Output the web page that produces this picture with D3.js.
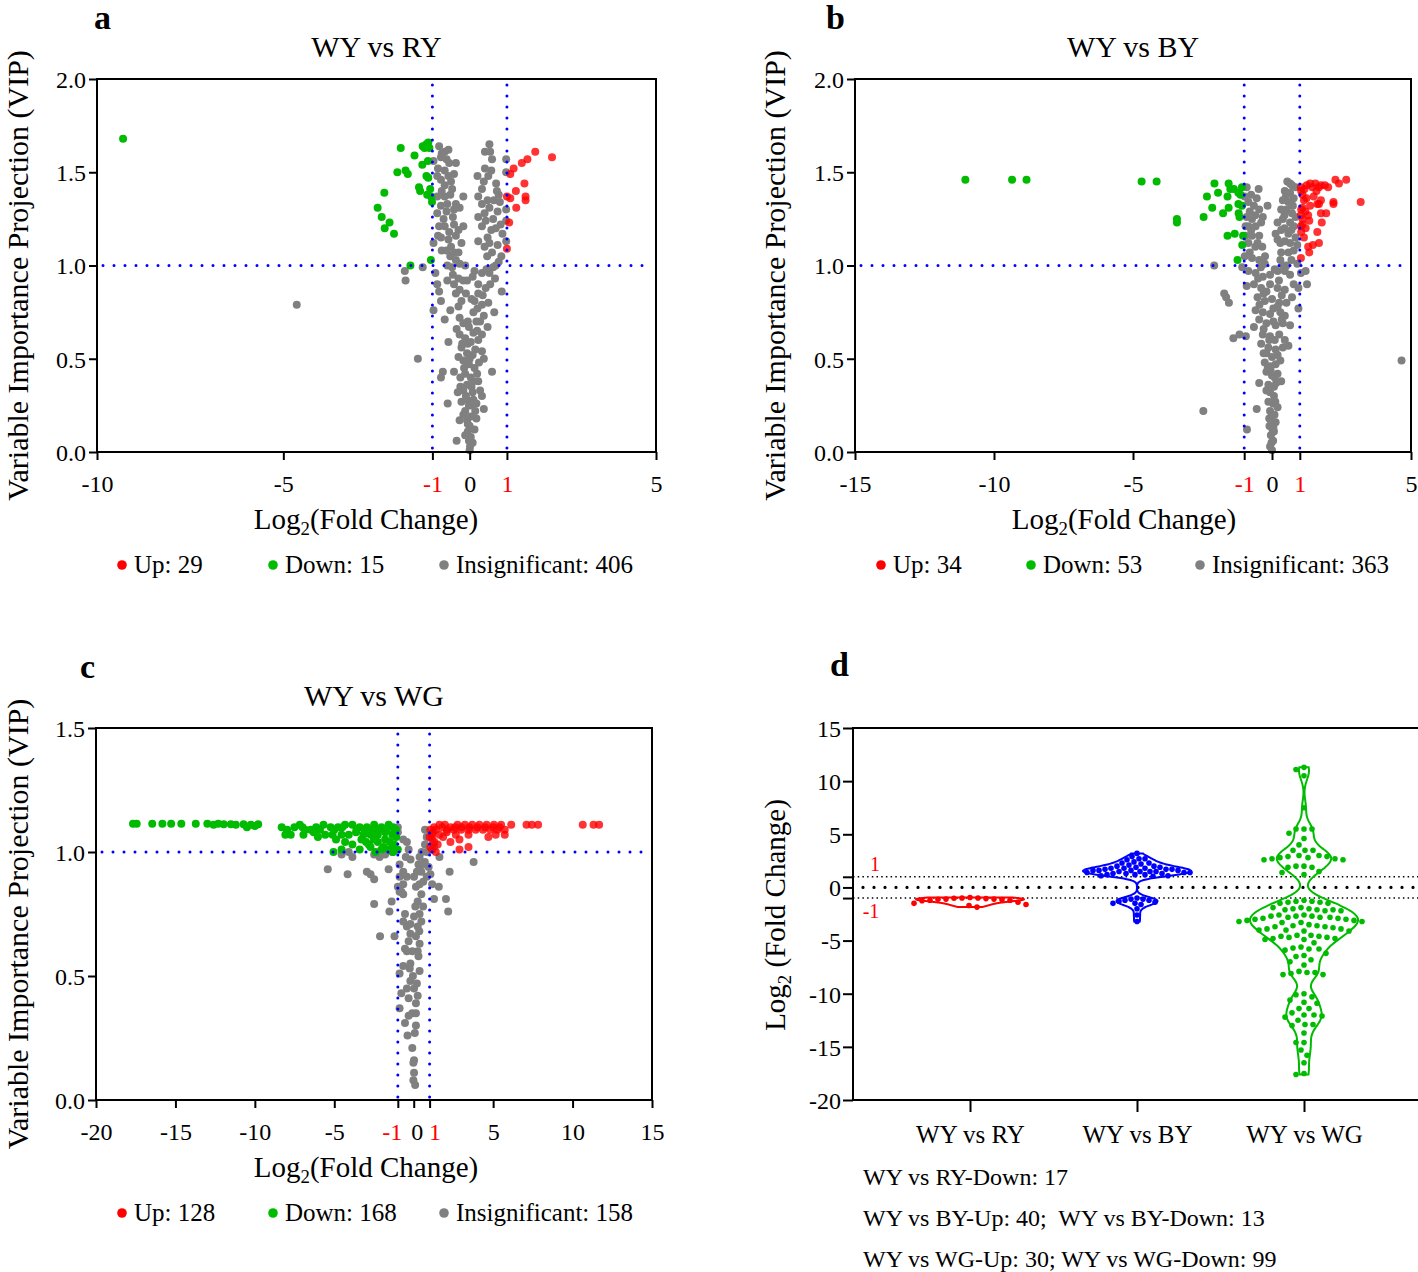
<!DOCTYPE html>
<html>
<head>
<meta charset="utf-8">
<script src="https://cdn.jsdelivr.net/npm/d3@7"></script>
<style>
  body { margin: 0; background: #fff; }
  text { font-family: "Liberation Serif", "Times New Roman", serif; }
</style>
</head>
<body>
<div id="chart"></div>
<script>
// ---- panel a : WY vs RY ----
const aUp = [[1.76,1.61],[2.21,1.58],[1.55,1.57],[1.40,1.55],[1.18,1.52],[1.09,1.49],[1.47,1.44],[1.24,1.40],[1.00,1.37],[1.09,1.36],[1.50,1.37],[1.50,1.35],[1.25,1.31],[1.06,1.23],[1.00,1.09]];
const aDown = [[-9.30,1.68],[-1.85,1.63],[-1.48,1.59],[-1.26,1.64],[-1.16,1.65],[-1.11,1.66],[-1.21,1.63],[-1.08,1.63],[-1.27,1.54],[-1.12,1.56],[-1.94,1.50],[-1.72,1.51],[-1.66,1.49],[-1.16,1.48],[-1.11,1.47],[-1.36,1.42],[-1.33,1.40],[-1.06,1.41],[-1.14,1.38],[-1.04,1.37],[-1.01,1.34],[-2.29,1.39],[-2.47,1.31],[-2.36,1.26],[-2.15,1.23],[-2.28,1.20],[-2.03,1.17],[-1.59,1.00],[-1.04,1.03]];
const aInsig = [
  [-0.82,1.64],[-0.67,1.61],[-0.57,1.62],[-0.77,1.58],[-0.62,1.57],[-0.37,1.55],[-0.97,1.56],[-0.67,1.51],[-0.87,1.48],[-0.77,1.46],[-0.57,1.48],[-0.42,1.49],[-0.67,1.43],[-0.47,1.41],[-0.87,1.37],[-0.67,1.37],[-0.52,1.38],[-0.17,1.37],[-0.77,1.32],[-0.37,1.33],[-0.27,1.31],[-0.87,1.28],[-0.62,1.29],[-0.42,1.30],[-0.82,1.21],[-0.67,1.21],[-0.42,1.22],[-0.17,1.21],[-0.77,1.15],[-0.57,1.14],[-0.37,1.16],[-0.22,1.12],[-0.97,1.12],[-0.62,1.08],[-0.42,1.07],[-0.52,1.05],[-0.37,1.03],[-0.27,1.01],[-0.47,0.99],[-0.12,1.00],
  [-0.92,0.96],[-0.87,0.90],[-0.82,0.86],[-0.77,0.81],[-0.97,0.76],[-0.67,0.71],[-0.52,0.76],[-0.42,0.90],[-0.27,0.87],[-0.17,0.92],[-0.07,0.92],[-0.37,0.85],[-0.22,0.81],[-0.57,0.59],[-0.42,0.43],[-0.72,0.43],[-0.77,0.40],[-0.59,0.26],[-0.35,0.06],[-0.27,0.17],[-0.32,0.32],
  [0.53,1.65],[0.41,1.61],[0.55,1.61],[0.98,1.57],[0.41,1.52],[0.58,1.51],[0.21,1.48],[0.38,1.45],[0.71,1.44],[0.98,1.50],[0.33,1.41],[0.73,1.40],[0.23,1.37],[0.48,1.35],[0.78,1.38],[0.33,1.33],[0.53,1.31],[0.81,1.34],[0.98,1.30],[0.23,1.26],[0.43,1.24],[0.63,1.25],[0.98,1.24],[0.33,1.21],[0.58,1.19],[0.83,1.22],[0.88,1.17],[0.23,1.13],[0.48,1.15],[0.53,1.12],[0.75,1.11],[0.98,1.13],[0.47,1.05],[0.70,1.00],[0.78,1.02],[0.63,0.99],[0.13,0.97],[0.33,0.96],[0.53,0.96],[0.68,0.93],[0.08,0.94],[0.23,0.90],[0.43,0.88],[0.86,0.86],[0.23,0.85],[0.13,0.81],[0.33,0.79],[0.21,0.77],[0.66,0.75],[0.38,0.73],[0.18,0.70],[0.48,0.67],[0.33,0.63],[0.23,0.60],[0.33,0.54],[0.38,0.50],[0.60,0.43],[0.23,0.38],[0.28,0.33],[0.33,0.30],[0.38,0.23],[0.18,0.26],
  [-0.27,0.72],[-0.17,0.69],[-0.02,0.67],[-0.27,0.63],[-0.12,0.61],[0.03,0.59],[-0.22,0.56],[-0.07,0.53],[0.08,0.52],[-0.17,0.49],[-0.02,0.47],[0.13,0.45],[-0.12,0.42],[0.03,0.40],[-0.07,0.36],[-0.17,0.33],[0.08,0.32],[-0.07,0.28],[-0.02,0.25],[-0.12,0.22],[0.03,0.19],[-0.07,0.17],[0,0.14],[-0.05,0.11],[0.03,0.08],[-0.02,0.06],[0.01,0.03],[0,0.01],[0.13,0.12],[-0.17,0.20],[0.18,0.18],[-0.22,0.27],
  [-0.1,0.85],[0.05,0.82],[-0.3,0.78],[0.1,0.75],[-0.05,0.70],[0.2,0.65],[-0.2,0.58],[0.15,0.55],[0,0.50],[-0.15,0.45],[0.1,0.38],[-0.1,0.30],[0.05,0.25],[-0.05,0.15],[0.08,0.05],[0.1,0.28],[-0.25,0.35],
  [-0.75,1.60],[-0.55,1.55],[-0.85,1.52],[-0.5,1.45],[-0.75,1.40],[-0.6,1.33],[-0.45,1.26],[-0.7,1.25],[-0.55,1.18],[-0.85,1.16],[-0.3,1.19],[-0.5,1.10],[-0.75,1.08],[-0.3,1.07],[-0.6,1.00],[-0.45,0.95],[-0.6,0.92],[-0.3,0.93],[0.6,1.57],[0.5,1.48],[0.65,1.35],[0.4,1.28],[0.75,1.29],[0.7,1.20],[0.4,1.10],[0.6,1.07],[0.85,1.05],[0.45,0.98],[0.55,0.90],[0.35,0.84],[0.5,0.80],[0.28,0.70],[0.1,0.64],[-0.35,0.66],[-0.3,0.51],[0.25,0.48],[0.2,0.42],[-0.25,0.40],[0.15,0.22],[-0.12,0.09],[0.05,0.35],[-0.05,0.58],
  [-4.64,0.79],[-1.39,0.50],[-1.74,0.97],[-1.72,0.92],[-1.26,0.99]
];

// ---- panel b : WY vs BY ----
const bUp = [[1.04,1.42],[1.17,1.41],[1.37,1.44],[1.56,1.44],[1.69,1.42],[1.76,1.43],[2.02,1.42],[2.28,1.46],[2.41,1.44],[2.67,1.46],[3.19,1.34],[1.24,1.36],[1.50,1.37],[1.76,1.35],[1.69,1.33],[2.21,1.34],[2.21,1.33],[1.10,1.31],[1.37,1.32],[1.63,1.33],[1.04,1.27],[1.30,1.27],[1.76,1.28],[1.95,1.28],[1.10,1.25],[1.34,1.24],[1.04,1.21],[1.21,1.20],[1.79,1.23],[1.63,1.18],[1.69,1.12],[1.47,1.11],[1.30,1.10],[1.34,1.07],[1.04,1.04],[1.05,1.40],[1.10,1.38],[1.15,1.35],[1.05,1.30],[1.20,1.29],[1.10,1.22],[1.05,1.18],[1.15,1.15],[1.45,1.42],[1.60,1.40],[1.90,1.43],[1.25,1.43]];
const bDown = [[-11.03,1.46],[-9.35,1.46],[-8.83,1.46],[-4.69,1.45],[-4.15,1.45],[-3.42,1.25],[-3.42,1.23],[-2.46,1.26],[-2.34,1.37],[-2.15,1.31],[-2.07,1.44],[-1.94,1.39],[-1.76,1.28],[-1.60,1.37],[-1.56,1.31],[-1.56,1.44],[-1.50,1.41],[-1.37,1.41],[-1.21,1.39],[-1.08,1.42],[-1.13,1.38],[-1.21,1.33],[-1.08,1.32],[-1.17,1.26],[-1.20,1.28],[-1.60,1.16],[-1.34,1.17],[-1.04,1.16],[-1.07,1.11],[-1.24,1.03]];
const bInsig = [
  [-0.91,1.42],[-0.48,1.41],[-0.98,1.37],[-0.85,1.34],[-0.65,1.32],[-0.46,1.30],[-0.91,1.26],[-0.72,1.25],[-0.33,1.26],[-0.85,1.21],[-0.59,1.21],[-0.39,1.23],[-0.95,1.16],[-0.72,1.16],[-0.46,1.16],[-0.85,1.12],[-0.52,1.12],[-0.98,1.05],[-0.72,1.04],[-0.46,1.03],[-0.26,1.01],[-0.16,1.32],
  [0.55,1.45],[0.72,1.43],[0.46,1.40],[0.65,1.39],[0.85,1.42],[0.39,1.35],[0.59,1.34],[0.78,1.36],[0.33,1.30],[0.52,1.30],[0.72,1.28],[0.20,1.23],[0.39,1.25],[0.65,1.23],[0.85,1.26],[0.13,1.17],[0.33,1.19],[0.59,1.17],[0.78,1.21],[0.20,1.14],[0.46,1.13],[0.65,1.12],[0.91,1.11],[0.33,1.07],[0.59,1.07],[0.78,1.08],[0.30,1.03],[0.52,1.00],[0.91,1.01],[1.04,0.96],[1.21,0.97],[1.26,0.90],[0.78,0.90],[0.95,0.88],
  [-2.08,1.00],[-1.07,0.99],[-1.72,0.85],[-1.65,0.83],[-1.55,0.80],[-1.39,0.61],[-1.17,0.63],[-0.94,0.62],[-2.47,0.22],[-0.90,0.12],[4.66,0.49],[-0.55,0.23],[0.95,0.77],[-0.91,0.89],
  [-0.85,0.97],[-0.59,0.96],[-0.33,0.94],[-0.07,0.95],[0.20,0.97],[0.46,0.97],[0.65,0.95],[-0.65,0.90],[-0.39,0.88],[-0.07,0.90],[0.20,0.88],[0.46,0.87],[0.72,0.83],[-0.52,0.83],[-0.26,0.81],[0,0.82],[0.26,0.80],[0.52,0.80],[-0.59,0.76],[-0.33,0.75],[-0.07,0.74],[0.20,0.78],[0.46,0.73],[-0.46,0.71],[-0.20,0.69],[0.13,0.68],[0.39,0.69],[0.65,0.68],[-0.65,0.67],[-0.33,0.63],[-0.07,0.62],[0.26,0.63],[0.46,0.60],[-0.39,0.58],[-0.13,0.56],[0.13,0.55],[0.39,0.56],[0.59,0.57],[-0.20,0.53],[0,0.51],[0.20,0.52],[-0.26,0.48],[-0.07,0.46],[0.13,0.47],[-0.20,0.43],[0,0.41],[0.20,0.42],[-0.46,0.37],[-0.13,0.36],[0.07,0.35],[0.33,0.38],[-0.07,0.32],[0.07,0.30],[-0.13,0.27],[0.04,0.26],[0.20,0.24],[-0.07,0.22],[0.09,0.20],[-0.03,0.17],[0.13,0.16],[-0.09,0.14],[0.07,0.11],[-0.04,0.09],[0.04,0.06],[-0.07,0.03],[0,0.01],
  [-0.1,0.60],[0.1,0.40],[-0.15,0.45],[0.05,0.70],[0.3,0.75],[-0.3,0.85],[0.25,0.92],[0.1,0.98],[-0.4,0.99],[0,0.20],[0.02,0.12],[-0.02,0.05],
  [-0.75,1.38],[-0.55,1.36],[-0.8,1.29],[-0.6,1.27],[-0.95,1.21],[-0.75,1.19],[-0.6,1.10],[-0.8,1.07],[-0.35,1.10],[-0.25,1.05],[0.65,1.44],[0.5,1.37],[0.75,1.32],[0.45,1.27],[0.7,1.19],[0.45,1.20],[0.85,1.15],[0.3,1.12],[0.7,1.03],[0.4,1.00],[-0.5,0.93],[-0.2,0.86],[0.35,0.84],[-0.45,0.79],[0.05,0.77],[0.35,0.71],[-0.3,0.66],[0.1,0.60],[-0.3,0.53],[0.3,0.49],[-0.05,0.44],[0.15,0.37],[-0.2,0.33],[0.12,0.27],[-0.1,0.18],[0.05,0.13]
];

// ---- panel c : WY vs WG ----
const cUp = [[1.05,1.09],[1.28,1.10],[1.62,1.11],[1.96,1.11],[2.31,1.10],[2.76,1.11],[3.22,1.11],[3.68,1.11],[4.13,1.11],[4.59,1.11],[5.05,1.11],[5.50,1.11],[6.14,1.11],[1.16,1.07],[1.62,1.07],[2.08,1.08],[2.53,1.09],[2.99,1.09],[3.45,1.09],[3.90,1.09],[4.36,1.09],[4.82,1.09],[5.27,1.09],[5.73,1.09],[1.16,1.05],[1.51,1.03],[1.16,1.01],[1.39,1.00],[2.31,1.04],[2.88,1.05],[3.45,1.07],[2.88,1.01],[3.45,1.02],[4.70,1.06],[5.16,1.07],[5.73,1.07],[1.85,1.06],[2.65,1.07],[7.10,1.11],[7.44,1.11],[7.83,1.11],[10.64,1.11],[11.32,1.11],[11.67,1.11],[1.0,1.06],[1.2,1.08],[1.4,1.09],[1.8,1.10],[2.1,1.09],[2.6,1.10],[3.0,1.10],[3.5,1.10],[4.0,1.10],[4.5,1.10],[5.0,1.10],[5.4,1.10],[1.05,1.02],[1.3,1.04]];
const cDown = [[-17.67,1.114],[-17.44,1.114],[-16.46,1.114],[-15.82,1.114],[-15.27,1.114],[-14.63,1.114],[-13.72,1.114],[-12.99,1.114],[-12.31,1.114],[-11.96,1.112],[-11.51,1.112],[-10.71,1.112],[-10.25,1.11],[-9.79,1.112],[-11.2,1.11],[-12.6,1.11],[-10.0,1.105],[-10.5,1.10],
  [-8.31,1.10],[-7.97,1.09],[-8.08,1.07],[-7.51,1.10],[-7.17,1.11],[-6.83,1.09],[-6.48,1.09],[-6.14,1.10],[-5.68,1.11],[-5.23,1.10],[-4.77,1.10],[-4.32,1.11],[-3.86,1.11],[-3.40,1.10],[-2.95,1.10],[-2.49,1.11],[-2.03,1.10],[-1.58,1.11],[-1.12,1.09],[-7.74,1.07],[-6.94,1.07],[-6.03,1.06],[-5.57,1.07],[-5.11,1.07],[-4.54,1.07],[-4.09,1.07],[-3.63,1.08],[-3.17,1.07],[-2.72,1.07],[-2.26,1.07],[-1.80,1.08],[-1.35,1.07],[-4.89,1.05],[-4.32,1.04],[-3.86,1.03],[-3.29,1.05],[-2.83,1.03],[-2.26,1.04],[-1.80,1.05],[-1.23,1.03],[-4.54,1.01],[-3.40,1.01],[-2.72,1.02],[-2.03,1.01],[-1.58,1.01],[-5.05,1.00],[-1.00,1.01],
  [-7.0,1.10],[-6.3,1.08],[-5.9,1.09],[-5.0,1.09],[-4.5,1.10],[-3.6,1.09],[-3.1,1.09],[-2.6,1.09],[-2.2,1.09],[-1.7,1.09],[-1.3,1.10],[-1.5,1.04],[-2.5,1.05],[-3.0,1.04],[-1.1,1.06],[-1.9,1.02],[-2.4,1.00],[-1.3,1.00]];
const cInsig = [
  [-1.00,1.10],[-1.00,1.08],[-0.66,1.05],[-0.43,1.04],[-0.32,1.01],[0.71,1.09],[0.82,1.06],[0.71,1.03],[0.82,1.00],[1.28,1.02],[1.62,0.98],
  [-4.54,0.99],[-4.09,1.00],[-3.86,0.98],[-2.49,0.99],[-2.15,0.98],[-1.80,0.99],[-1.35,1.00],[-0.89,0.95],[-1.58,0.93],[-5.41,0.93],[-4.16,0.91],[-2.95,0.92],[-2.72,0.91],[-2.49,0.89],[-2.49,0.79],[-1.39,0.80],[-1.53,0.76],[-2.12,0.66],[-1.21,0.66],[-0.78,0.84],[-0.66,0.87],[-0.43,0.90],[0.02,0.90],
  [2.26,0.92],[3.77,0.96],[2.03,0.81],[2.17,0.76],[1.58,0.86],[1.16,0.87],[1.28,0.81],[0.37,0.98],[0.59,0.95],[0.94,0.94],[0.48,0.92],[0.82,0.90],[0.37,0.87],[1.05,0.91],
  [0.14,0.86],[0.48,0.83],[0.25,0.80],[0.59,0.78],[0.37,0.75],[0.02,0.74],[0.48,0.72],[0.25,0.70],[-0.21,0.67],[0.14,0.66],[0.37,0.63],[-0.43,0.60],[-0.09,0.60],[0.25,0.60],[-0.21,0.55],[-0.25,0.53],[0.37,0.52],[-0.21,0.48],[-0.43,0.45],[0.02,0.45],[0.25,0.42],[-0.32,0.41],[0.14,0.39],[-0.09,0.35],[-0.32,0.34],[0.14,0.35],[-0.55,0.31],[0.14,0.30],[-0.39,0.26],[0.07,0.27],[-0.09,0.21],[0.02,0.16],[-0.02,0.15],[0.02,0.11],[-0.02,0.08],[0.09,0.06],[-0.66,0.92],[-0.89,0.90],[-1.00,0.86],[-0.89,0.84],[-0.66,0.83],[-0.55,0.75],[-0.66,0.72],[-0.43,0.70],[-0.21,0.71],[-0.32,0.64],[-0.55,0.61],[-0.66,0.54],[-0.89,0.51],[-0.78,0.43],[-0.89,0.37],
  [0.5,1.0],[0.3,0.95],[0.6,0.88],[0.2,0.92],[0.7,0.96],[-0.2,0.97],[-0.5,0.98],[0.1,0.78],[0.35,0.68],[-0.05,0.5],[0.2,0.47],[0.3,0.58]
];

// ---- panel d : Log2 fold change of significant metabolites ----
const dGroups = ["WY vs RY", "WY vs BY", "WY vs WG"];
const dRY = [-0.95,-1.0,-1.0,-1.02,-1.05,-1.1,-1.1,-1.12,-1.15,-1.2,-1.2,-1.25,-1.4,-1.5,-1.6,-1.7,-1.85];
const dBY = [3.2,2.9,2.7,2.7,2.6,2.4,2.3,2.3,2.2,2.1,2.0,2.0,1.9,1.9,1.8,1.8,1.8,1.7,1.7,1.7,1.6,1.6,1.6,1.6,1.5,1.5,1.5,1.5,1.4,1.4,1.4,1.3,1.3,1.3,1.2,1.2,1.2,1.1,1.1,1.05,
  -1.0,-1.1,-1.1,-1.2,-1.2,-1.3,-1.4,-1.5,-1.5,-1.6,-2.0,-2.6,-3.2];
const dWG = [11.3,11.1,10.5,7.5,5.5,5.5,5.5,5.1,4.6,4.0,3.5,3.5,3.5,3.0,3.0,2.9,2.9,2.8,2.8,2.7,2.7,2.6,2.6,2.0,2.0,1.9,1.9,1.5,1.4,1.2,
  -1.2,-1.3,-1.3,-1.4,-1.4,-1.5,-1.5,-1.9,-2.0,-2.0,-2.1,-2.1,-2.1,-2.2,-2.2,-1.9,-2.6,-2.6,-2.7,-2.7,-2.8,-2.8,-2.8,-2.9,-2.9,-2.7,
  -3.0,-3.1,-3.1,-3.2,-3.2,-3.3,-3.0,-3.3,-3.5,-3.6,-3.6,-3.7,-3.7,-3.8,-3.9,-4.0,-4.0,-4.1,-3.9,-4.1,
  -4.5,-4.6,-4.6,-4.7,-4.7,-4.8,-4.8,-4.9,-4.5,-4.9,-5.2,-5.6,-5.7,-5.8,-5.8,-5.9,-6.2,-6.4,-6.5,-6.8,-7.0,-7.3,
  -7.9,-8.0,-8.0,-8.1,-8.2,-8.2,-10.0,-10.1,-10.3,-10.6,-10.8,-10.9,-11.4,-11.4,-11.8,-12.0,-12.0,-12.1,-12.2,-12.5,
  -12.9,-12.9,-13.0,-13.7,-14.6,-14.6,-15.3,-15.8,-16.5,-17.5,-17.6];
const dNotes = ["WY vs RY-Down: 17", "WY vs BY-Up: 40;  WY vs BY-Down: 13", "WY vs WG-Up: 30; WY vs WG-Down: 99"];

const red = "#ff0000", green = "#00bb00", gray = "#808080", blue = "#0000ff";
const serif = "'Liberation Serif', 'Times New Roman', serif";

const svg = d3.select("#chart").append("svg")
  .attr("width", 1418)
  .attr("height", 1272)
  .style("background", "#fff");

function logLabel(sel, size) {
  sel.append("tspan").text("Log");
  sel.append("tspan").attr("dy", size * 0.22).attr("font-size", size * 0.65).text("2");
}

function volcano(cfg) {
  const g = svg.append("g");
  const x = d3.scaleLinear().domain(cfg.xDomain).range([cfg.left, cfg.left + cfg.width]);
  const y = d3.scaleLinear().domain(cfg.yDomain).range([cfg.top + cfg.height, cfg.top]);
  const r = 4;

  [[cfg.insig, gray, 1], [cfg.down, green, 1], [cfg.up, red, 0.8]].forEach(([data, color, op]) => {
    g.append("g").selectAll("circle").data(data).join("circle")
      .attr("cx", d => x(d[0]))
      .attr("cy", d => y(d[1]))
      .attr("r", r)
      .attr("fill", color)
      .attr("fill-opacity", op);
  });

  // dotted threshold lines
  const dots = g.append("g")
    .attr("stroke", blue)
    .attr("stroke-width", 3)
    .attr("stroke-linecap", "round")
    .attr("stroke-dasharray", "0 11");
  [-1, 1].forEach(v => {
    dots.append("line")
      .attr("x1", x(v)).attr("x2", x(v))
      .attr("y1", cfg.top + 6).attr("y2", cfg.top + cfg.height - 2);
  });
  dots.append("line")
    .attr("x1", cfg.left + 6).attr("x2", cfg.left + cfg.width - 6)
    .attr("y1", y(1)).attr("y2", y(1));

  g.append("rect")
    .attr("x", cfg.left).attr("y", cfg.top)
    .attr("width", cfg.width).attr("height", cfg.height)
    .attr("fill", "none").attr("stroke", "#000").attr("stroke-width", 2);

  const xAxis = d3.axisBottom(x).tickValues(cfg.xTicks).tickSize(8).tickSizeOuter(0)
    .tickFormat(d => String(d));
  const gx = g.append("g")
    .attr("transform", `translate(0, ${cfg.top + cfg.height})`)
    .call(xAxis);
  gx.select(".domain").remove();
  gx.selectAll("line").attr("stroke-width", 2);
  gx.selectAll("text")
    .attr("y", 40).attr("dy", 0)
    .attr("dx", d => (cfg.tickShift && cfg.tickShift[d]) || 0)
    .attr("font-family", serif).attr("font-size", 24)
    .attr("fill", d => Math.abs(d) === 1 ? red : "#000");

  const yAxis = d3.axisLeft(y).tickValues(cfg.yTicks).tickSize(8).tickSizeOuter(0)
    .tickFormat(d3.format(".1f"));
  const gy = g.append("g")
    .attr("transform", `translate(${cfg.left}, 0)`)
    .call(yAxis);
  gy.select(".domain").remove();
  gy.selectAll("line").attr("stroke-width", 2);
  gy.selectAll("text")
    .attr("x", -11).attr("dy", "0.35em")
    .attr("font-family", serif).attr("font-size", 24).attr("fill", "#000");

  g.append("text")
    .attr("x", cfg.letterX).attr("y", cfg.top - 50)
    .attr("font-size", 34).attr("font-weight", "bold")
    .text(cfg.letter);

  g.append("text")
    .attr("x", cfg.left + cfg.width / 2).attr("y", cfg.top - 22)
    .attr("text-anchor", "middle").attr("font-size", 30)
    .text(cfg.title);

  const xl = g.append("text")
    .attr("x", cfg.xLabelX).attr("y", cfg.top + cfg.height + 77)
    .attr("text-anchor", "middle").attr("font-size", 29);
  logLabel(xl, 29);
  xl.append("tspan").attr("dy", -29 * 0.22).text("(Fold Change)");

  g.append("text")
    .attr("transform", `translate(${cfg.yLabelX}, ${cfg.top + cfg.height / 2 + 10}) rotate(-90)`)
    .attr("text-anchor", "middle").attr("font-size", 30)
    .text("Variable Importance Projection (VIP)");

  const legY = cfg.top + cfg.height + 121;
  [[red, cfg.legend[0]], [green, cfg.legend[1]], [gray, cfg.legend[2]]].forEach(([c, t], i) => {
    const lx = cfg.legendX[i];
    g.append("circle").attr("cx", lx).attr("cy", legY - 8).attr("r", 4.8).attr("fill", c);
    g.append("text").attr("x", lx + 12).attr("y", legY).attr("font-size", 25).text(t);
  });
}

volcano({
  left: 97, top: 79, width: 559, height: 373,
  xDomain: [-10, 5], yDomain: [0, 2], xTicks: [-10, -5, -1, 0, 1, 5], yTicks: [0, 0.5, 1, 1.5, 2],
  up: aUp, down: aDown, insig: aInsig,
  title: "WY vs RY", letter: "a", letterX: 94, xLabelX: 366, yLabelX: 28,
  legend: ["Up: 29", "Down: 15", "Insignificant: 406"], legendX: [122, 273, 444]
});

volcano({
  left: 855, top: 79, width: 556, height: 373,
  xDomain: [-15, 5], yDomain: [0, 2], xTicks: [-15, -10, -5, -1, 0, 1, 5], yTicks: [0, 0.5, 1, 1.5, 2],
  up: bUp, down: bDown, insig: bInsig,
  title: "WY vs BY", letter: "b", letterX: 826, xLabelX: 1124, yLabelX: 785,
  legend: ["Up: 34", "Down: 53", "Insignificant: 363"], legendX: [881, 1031, 1200]
});

volcano({
  left: 96, top: 728, width: 556, height: 372,
  xDomain: [-20, 15], yDomain: [0, 1.5], xTicks: [-20, -15, -10, -5, -1, 0, 1, 5, 10, 15], yTicks: [0, 0.5, 1, 1.5],
  up: cUp, down: cDown, insig: cInsig, tickShift: { "-1": -6, "0": 3, "1": 5 },
  title: "WY vs WG", letter: "c", letterX: 80, xLabelX: 366, yLabelX: 28,
  legend: ["Up: 128", "Down: 168", "Insignificant: 158"], legendX: [122, 273, 444]
});

// ---- panel d ----
(function () {
  const left = 853, top = 728, bottom = 1100;
  const g = svg.append("g");
  const y = d3.scaleLinear().domain([-20, 15]).range([bottom, top]);
  const x = d3.scalePoint().domain(dGroups).range([970, 1304]);
  // values, colour, kde bandwidth, swarm spacing
  const groupData = [[dRY, red, 0.2, 8], [dBY, blue, 0.3, 5.6], [dWG, green, 0.75, 8]];
  const halfMax = 54, r = 2.8;

  // reference lines
  g.append("line").attr("x1", left).attr("x2", 1418).attr("y1", y(1)).attr("y2", y(1))
    .attr("stroke", "#000").attr("stroke-width", 1.5).attr("stroke-dasharray", "1.5 3.2");
  g.append("line").attr("x1", left).attr("x2", 1418).attr("y1", y(-1)).attr("y2", y(-1))
    .attr("stroke", "#000").attr("stroke-width", 1.5).attr("stroke-dasharray", "1.5 3.2");
  g.append("line").attr("x1", left + 10).attr("x2", 1418).attr("y1", y(0)).attr("y2", y(0))
    .attr("stroke", "#000").attr("stroke-width", 3.2).attr("stroke-linecap", "round")
    .attr("stroke-dasharray", "0 11");

  groupData.forEach(([vals, color, bw, sep], gi) => {
    const cx = x(dGroups[gi]);
    const lo = d3.min(vals), hi = d3.max(vals), n = 120;
    const dens = d3.range(n + 1).map(i => {
      const t = lo + (hi - lo) * i / n;
      return [t, d3.mean(vals, v => Math.exp(-0.5 * ((t - v) / bw) ** 2))];
    });
    const dm = d3.max(dens, d => d[1]);
    const area = d3.area()
      .y(d => y(d[0]))
      .x0(d => cx - d[1] / dm * halfMax)
      .x1(d => cx + d[1] / dm * halfMax)
      .curve(d3.curveCatmullRom);
    g.append("path").datum(dens)
      .attr("d", area)
      .attr("fill", "none").attr("stroke", color).attr("stroke-width", 2);

    // simple beeswarm placement
    const placed = [];
    vals.map(v => ({ v, py: y(v) })).sort((a, b) => b.v - a.v).forEach(p => {
      let best = 0;
      for (let k = 0; k < 200; k++) {
        const dx = (k % 2 === 0 ? 1 : -1) * Math.ceil(k / 2);
        const ok = placed.every(q => (q.px - (cx + dx)) ** 2 + (q.py - p.py) ** 2 >= sep * sep);
        if (ok) { best = dx; break; }
      }
      p.px = cx + best;
      placed.push(p);
    });
    g.append("g").selectAll("circle").data(placed).join("circle")
      .attr("cx", d => d.px).attr("cy", d => d.py).attr("r", r).attr("fill", color);
  });

  g.append("path")
    .attr("d", `M1425,${top}H${left}V${bottom}H1425`)
    .attr("fill", "none").attr("stroke", "#000").attr("stroke-width", 2);

  const gy = g.append("g").attr("transform", `translate(${left}, 0)`)
    .call(d3.axisLeft(y).tickValues([15, 10, 5, 0, -5, -10, -15, -20]).tickSize(10).tickSizeOuter(0)
      .tickFormat(d => String(d)));
  gy.select(".domain").remove();
  gy.selectAll("line").attr("stroke-width", 2);
  gy.selectAll("text").attr("x", -12).attr("dy", "0.35em")
    .attr("font-family", serif).attr("font-size", 24).attr("fill", "#000");
  const gy2 = g.append("g").attr("transform", `translate(${left}, 0)`)
    .call(d3.axisLeft(y).tickValues([1, -1]).tickSize(10).tickFormat(""));
  gy2.select(".domain").remove();
  gy2.selectAll("line").attr("stroke-width", 2);

  g.append("text").attr("x", 875).attr("y", 871).attr("text-anchor", "middle")
    .attr("font-size", 20).attr("fill", red).text("1");
  g.append("text").attr("x", 871).attr("y", 918).attr("text-anchor", "middle")
    .attr("font-size", 20).attr("fill", red).text("-1");

  const gx = g.append("g").attr("transform", `translate(0, ${bottom})`)
    .call(d3.axisBottom(x).tickSize(12).tickSizeOuter(0));
  gx.select(".domain").remove();
  gx.selectAll("line").attr("stroke-width", 2);
  gx.selectAll("text").attr("y", 43).attr("dy", 0)
    .attr("font-family", serif).attr("font-size", 25).attr("fill", "#000");

  g.append("text").attr("x", 830).attr("y", 676)
    .attr("font-size", 34).attr("font-weight", "bold").text("d");

  const yl = g.append("text")
    .attr("transform", `translate(785, 915) rotate(-90)`)
    .attr("text-anchor", "middle").attr("font-size", 29);
  logLabel(yl, 29);
  yl.append("tspan").attr("dy", -29 * 0.22).text(" (Fold Change)");

  dNotes.forEach((t, i) => {
    g.append("text").attr("x", 863).attr("y", 1185 + i * 41)
      .attr("font-size", 24).style("white-space", "pre").text(t);
  });
})();
</script>
</body>
</html>
